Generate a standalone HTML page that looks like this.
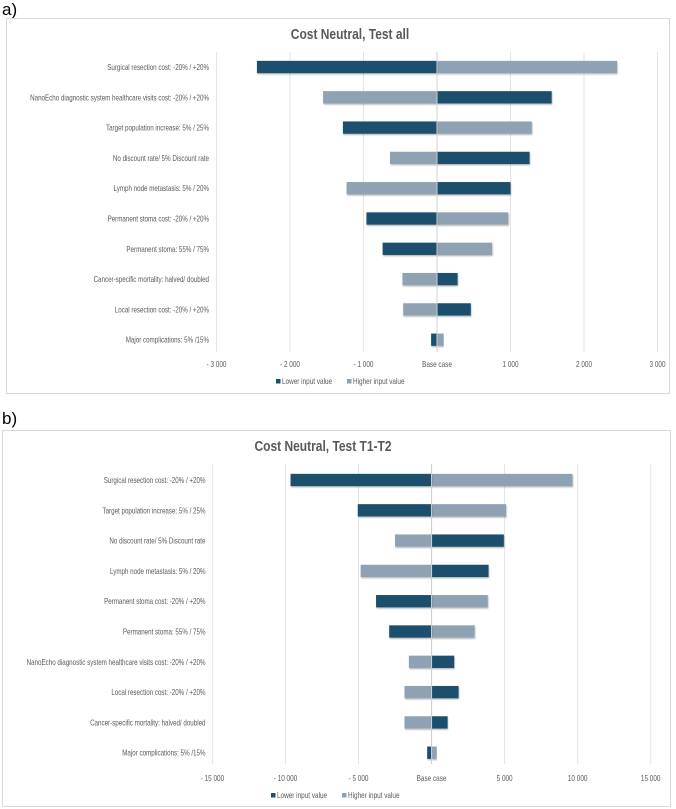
<!DOCTYPE html>
<html><head><meta charset="utf-8"><style>
html,body{margin:0;padding:0;background:#fff;width:676px;height:809px;overflow:hidden}
svg{display:block;font-family:"Liberation Sans",sans-serif}
</style></head><body>
<svg id="s" width="676" height="809" xmlns="http://www.w3.org/2000/svg">
<defs><filter id="sh" x="-5%" y="-20%" width="110%" height="160%"><feDropShadow dx="0.6" dy="1.2" stdDeviation="0.8" flood-color="#000" flood-opacity="0.3"/></filter></defs>
<text x="2" y="15" font-size="17" fill="#000">a)</text>
<text x="2" y="424" font-size="17" fill="#000">b)</text>
</svg>
<script>
// Chart A data
const catsA = ["Surgical resection cost: -20% / +20%","NanoEcho diagnostic system healthcare visits cost: -20% / +20%","Target population increase: 5% / 25%","No discount rate/ 5% Discount rate","Lymph node metastasis: 5% / 20%","Permanent stoma cost: -20% / +20%","Permanent stoma: 55% / 75%","Cancer-specific mortality: halved/  doubled","Local  resection cost: -20% / +20%","Major complications: 5% /15%"];
const lowerA = [-2450, 1560, -1280, 1260, 1000, -960, -740, 280, 460, -80];
const higherA = [2450, -1550, 1290, -640, -1230, 970, 750, -470, -460, 90];
const ticksA = [-3000,-2000,-1000,0,1000,2000,3000];
const tickLabelsA = ["- 3 000","- 2 000","- 1 000","Base case","1 000","2 000","3 000"];
// Chart B data
const catsB = ["Surgical resection cost: -20% / +20%","Target population increase: 5% / 25%","No discount rate/ 5% Discount rate","Lymph node metastasis: 5% / 20%","Permanent stoma cost: -20% / +20%","Permanent stoma: 55% / 75%","NanoEcho diagnostic system healthcare visits cost: -20% / +20%","Local  resection cost: -20% / +20%","Cancer-specific mortality: halved/  doubled","Major complications: 5% /15%"];
const lowerB = [-9650, -5050, 4950, 3900, -3800, -2900, 1550, 1850, 1100, -300];
const higherB = [9650, 5100, -2500, -4850, 3850, 2950, -1550, -1850, -1850, 350];
const ticksB = [-15000,-10000,-5000,0,5000,10000,15000];
const tickLabelsB = ["- 15 000","- 10 000","- 5 000","Base case","5 000","10 000","15 000"];

const svg = document.getElementById('s');
const NS = "http://www.w3.org/2000/svg";
const DARK = "#1b4f6e", LIGHT = "#8ea2b4";
function mk(tag, attrs, parent){const e=document.createElementNS(NS,tag);for(const k in attrs)e.setAttribute(k,attrs[k]);(parent||svg).appendChild(e);return e;}

function chart(o){
  const g = mk('g',{});
  
  
  const box = mk('rect',{x:o.bx,y:o.by,width:o.bw,height:o.bh,fill:'#fff',stroke:'#d9d9d9','stroke-width':1},g);
  
  
  const t = mk('text',{transform:`translate(${o.tx},${o.ty}) scale(0.8,1)`,'text-anchor':'middle','font-size':15,'font-weight':'bold',fill:'#595959'},g);
  t.textContent = o.title;
  
  
  const x = v => o.x0 + (v - o.dmin) / (o.dmax - o.dmin) * (o.x1 - o.x0);
  o.ticks.forEach((tv,i)=>{
    const l = mk('line',{x1:x(tv),x2:x(tv),y1:o.top,y2:o.bot,stroke:tv===0?'#c8c8c8':'#e4e4e4','stroke-width':1},g);
    
    
    const tl = mk('text',{transform:`translate(${x(tv)},${o.tickY}) scale(0.8,1)`,'text-anchor':'middle','font-size':8,fill:'#595959'},g);
    tl.textContent = o.tickLabels[i];
    
    
  });
  const bh = 12.3;
  o.cats.forEach((c,i)=>{
    const cy = o.row0 + i*o.rowStep;
    const lab = mk('text',{transform:`translate(${o.labX},${cy+3}) scale(0.76,1)`,'text-anchor':'end','font-size':8.2,fill:'#595959'},g);
    lab.textContent = c;
    
    
    [[o.higher[i],LIGHT,'bar-higher'],[o.lower[i],DARK,'bar-lower']].forEach(([v,col,nm])=>{
      const a = Math.min(x(0),x(v)), w = Math.abs(x(v)-x(0));
      const r = mk('rect',{x:a,y:cy-bh/2,width:w,height:bh,fill:col,filter:'url(#sh)'},g);
      
      
    });
  });
  mk('line',{x1:x(0),x2:x(0),y1:o.top,y2:o.bot,stroke:'#d0d0d0','stroke-width':1},g);
  [[o.legX1,DARK,'Lower input value','legend-lower'],[o.legX2,LIGHT,'Higher input value','legend-higher']].forEach(([lx,col,txt,nm])=>{
    const lg = mk('g',{},g);
    
    
    mk('rect',{x:lx,y:o.legY-5,width:4.5,height:4.5,fill:col},lg);
    const tt = mk('text',{transform:`translate(${lx+6},${o.legY}) scale(0.8,1)`,'font-size':8,fill:'#595959'},lg);
    tt.textContent = txt;
  });
}
chart({name:'chart-test-all',bx:6.5,by:18.5,bw:663,bh:375,title:'Cost Neutral, Test all',tx:350,ty:39,
  cats:catsA,lower:lowerA,higher:higherA,ticks:ticksA,tickLabels:tickLabelsA,
  dmin:-3000,dmax:3000,x0:216.5,x1:657.5,top:52,bot:352,row0:67,rowStep:30.3,labX:209,tickY:367,
  legX1:276,legX2:347,legY:384});
chart({name:'chart-test-t1-t2',bx:2.5,by:430.5,bw:668,bh:376,title:'Cost Neutral, Test T1-T2',tx:323,ty:451,
  cats:catsB,lower:lowerB,higher:higherB,ticks:ticksB,tickLabels:tickLabelsB,
  dmin:-15000,dmax:15000,x0:212.4,x1:650.7,top:464,bot:764,row0:480,rowStep:30.3,labX:205.5,tickY:781,
  legX1:271,legX2:342,legY:798});
</script>
</body></html>
